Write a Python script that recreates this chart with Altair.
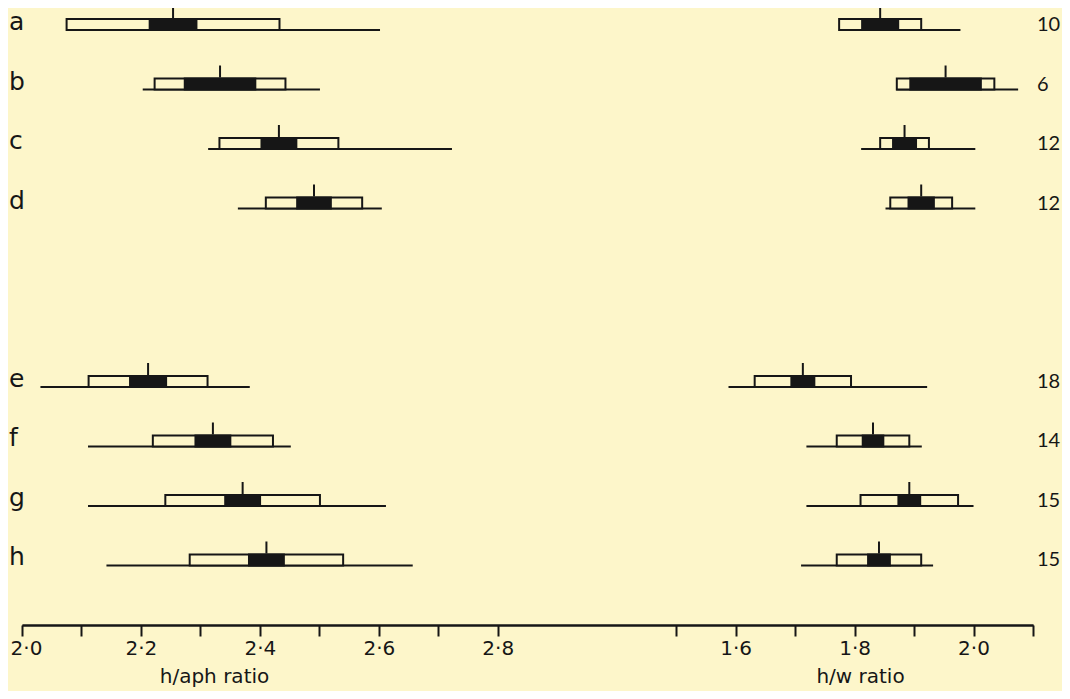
import altair as alt
import pandas as pd

INK = "#161616"
BG = "#fdf6ca"
FONT = "DejaVu Sans"

groups = ["a", "b", "c", "d", "e", "f", "g", "h"]
counts = [10, 6, 12, 12, 18, 14, 15, 15]
row_slots = ["a", "b", "c", "d", " ", "  ", "e", "f", "g", "h"]

# h/aph ratio
aph_mean = [2.254, 2.333, 2.432, 2.491, 2.212, 2.321, 2.371, 2.411]
aph_sd = [0.179, 0.110, 0.100, 0.081, 0.100, 0.101, 0.130, 0.129]
aph_se2 = [0.041, 0.061, 0.031, 0.030, 0.032, 0.031, 0.031, 0.031]
aph_min = [2.074, 2.203, 2.313, 2.363, 2.031, 2.111, 2.111, 2.142]
aph_max = [2.602, 2.501, 2.723, 2.605, 2.383, 2.452, 2.612, 2.657]

# h/w ratio
hw_mean = [1.843, 1.953, 1.884, 1.912, 1.713, 1.831, 1.892, 1.841]
hw_sd = [0.069, 0.082, 0.041, 0.052, 0.081, 0.061, 0.082, 0.071]
hw_se2 = [0.032, 0.061, 0.021, 0.023, 0.021, 0.019, 0.020, 0.020]
hw_min = [1.775, 1.870, 1.811, 1.852, 1.588, 1.719, 1.719, 1.710]
hw_max = [1.978, 2.075, 2.003, 2.003, 1.922, 1.913, 2.000, 1.932]

aph_ticks = [2.0, 2.1, 2.2, 2.3, 2.4, 2.5, 2.6, 2.7, 2.8]
hw_ticks = [1.5, 1.6, 1.7, 1.8, 1.9, 2.0, 2.1]


def frame(mean, sd, se2, lo, hi):
    df = pd.DataFrame({"group": groups, "mean": mean, "sd": sd, "se2": se2,
                       "min": lo, "max": hi})
    df["lo_sd"] = df["mean"] - df["sd"]
    df["hi_sd"] = df["mean"] + df["sd"]
    df["lo_se"] = df["mean"] - df["se2"]
    df["hi_se"] = df["mean"] + df["se2"]
    return df


df_l = frame(aph_mean, aph_sd, aph_se2, aph_min, aph_max)
df_r = frame(hw_mean, hw_sd, hw_se2, hw_min, hw_max)
df_n = pd.DataFrame({"group": groups, "n": [str(c) for c in counts]})

Y = alt.Y("group:N", scale=alt.Scale(type="point", domain=row_slots,
                                       padding=0.685, align=0.27), axis=None)

LABEL_EXPR = ("round(datum.value*10) % 2 == 0 ? "
              "replace(format(datum.value, '.1f'), '.', '\u00b7') : ''")


def axis(values, title, title_x, first_shift=0):
    return alt.Axis(orient="bottom", values=values, labelExpr=LABEL_EXPR,
                    title=title, titleX=title_x, titleY=57, titleAlign="center",
                    titleBaseline="alphabetic", titleFont=FONT, titleFontSize=20,
                    titleFontWeight="normal", titleColor=INK,
                    labelFont=FONT, labelFontSize=20, labelColor=INK,
                    labelOffset={"condition": {"test": f"datum.value <= {values[0]}",
                                               "value": first_shift},
                                 "value": 0},
                    labelPadding=2, labelFlush=False, labelOverlap=False,
                    tickSize=11, tickWidth=2, tickColor=INK,
                    domainWidth=2, domainColor=INK, grid=False)


def panel(df, domain, ax):
    xs = alt.Scale(domain=domain, nice=False, zero=False)
    base = alt.Chart(df)
    rng = base.mark_rule(color=INK, strokeWidth=2).encode(
        x=alt.X("min:Q", scale=xs, axis=ax), x2="max:Q", y=Y)
    outer = base.mark_rule(color=INK, strokeWidth=13, yOffset=-5.5,
                           xOffset=-1, x2Offset=1).encode(
        x=alt.X("lo_sd:Q", scale=xs), x2="hi_sd:Q", y=Y)
    inner = base.mark_rule(color=BG, strokeWidth=9, yOffset=-5.5,
                           xOffset=1, x2Offset=-1).encode(
        x=alt.X("lo_sd:Q", scale=xs), x2="hi_sd:Q", y=Y)
    black = base.mark_rule(color=INK, strokeWidth=13, yOffset=-5.5).encode(
        x=alt.X("lo_se:Q", scale=xs), x2="hi_se:Q", y=Y)
    tick = base.mark_tick(color=INK, opacity=1, size=12, thickness=2,
                          yOffset=-18).encode(
        x=alt.X("mean:Q", scale=xs), y=Y)
    return alt.layer(rng, outer, inner, black, tick)


left = panel(df_l, [2.0, 3.7], axis(aph_ticks, "h/aph ratio", 192, first_shift=4))
right = panel(df_r, [0.4, 2.1], axis(hw_ticks, "h/w ratio", 838))

letters = alt.Chart(df_n).mark_text(align="left", baseline="alphabetic",
                                    font=FONT, fontSize=25, color=INK).encode(
    x=alt.value(-13), y=Y, text="group:N")
numbers = alt.Chart(df_n).mark_text(align="left", baseline="alphabetic",
                                    font="Lato", fontSize=20, color=INK, dy=1).encode(
    x=alt.value(1015), y=Y, text="n:N")

chart = alt.layer(left, right, letters, numbers).resolve_scale(
    x="independent"
).properties(
    width=1011, height=617, background=BG,
    padding={"left": 14, "top": 0, "right": 29, "bottom": 66},
    autosize=alt.AutoSizeParams(type="none"),
).configure_view(stroke=None)

chart.save("out.html", embed_options={"renderer": "svg", "actions": False})
